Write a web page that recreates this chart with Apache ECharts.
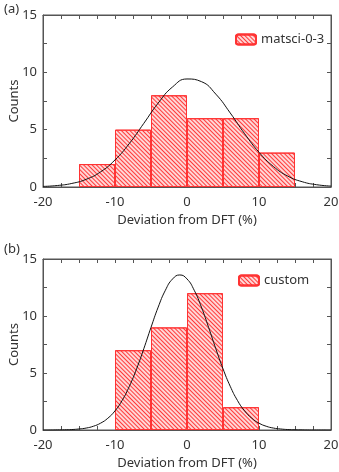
<!DOCTYPE html>
<html>
<head>
<meta charset="utf-8">
<script src="https://cdn.jsdelivr.net/npm/echarts@6/dist/echarts.min.js"></script>
<style>
html, body { margin: 0; padding: 0; background: #fff; }
#main { width: 339px; height: 472px; }
</style>
</head>
<body>
<div id="main"></div>
<script>
// histogram bins (bin centre, %) and counts
var binCentersA = [-12.5, -7.5, -2.5, 2.5, 7.5, 12.5];
var countsA = [2, 5, 8, 6, 6, 3];
var binCentersB = [-7.5, -2.5, 2.5, 7.5];
var countsB = [7, 9, 12, 2];

// fitted normal curves
var curveXA = [-20, -18, -16, -14, -12, -10, -8, -6, -4, -2, 0, 2, 4, 6, 8, 10, 12, 14, 16, 18, 20];
var curveYA = [0.05, 0.13, 0.31, 0.67, 1.32, 2.36, 3.80, 5.55, 7.32, 8.73, 9.42, 9.19, 8.10, 6.46, 4.65, 3.03, 1.79, 0.95, 0.46, 0.20, 0.08];
var curveXB = [-20, -19, -18, -17, -16, -15, -14, -13, -12, -11, -10, -9, -8, -7, -6, -5, -4, -3, -2, -1, 0,
	1, 2, 3, 4, 5, 6, 7, 8, 9, 10, 11, 12, 13, 14, 15, 16, 17, 18, 19, 20];
var curveYB = [0, 0, 0.01, 0.02, 0.04, 0.09, 0.17, 0.33, 0.60, 1.03, 1.68, 2.60, 3.84, 5.37, 7.13, 9.00, 10.78, 12.26, 13.25, 13.60, 13.25,
	12.26, 10.78, 9.00, 7.13, 5.37, 3.84, 2.60, 1.68, 1.03, 0.60, 0.33, 0.17, 0.09, 0.04, 0.02, 0.01, 0, 0, 0, 0];

var nameA = 'matsci-0-3';
var nameB = 'custom';

function pairs(xs, ys) {
	var out = [];
	for(var i = 0; i < xs.length; i++) {
		out.push([xs[i], ys[i]]);
	}
	return out;
}

var gridLeft = 43, gridRight = 8;
var barW = (339 - gridLeft - gridRight) / 40 * 5;
var font = 'Noto Sans';
var txt = '#333';
var axCol = '#555';

// mirror axes keep their labels but paint them transparent (hidden labels drop the axis line here)
function xAx(gi, top) {
	return {
		type: 'value', gridIndex: gi, min: -20, max: 20, interval: 10,
		position: top ? 'top' : 'bottom',
		name: top ? '' : 'Deviation from DFT (%)',
		nameLocation: 'middle', nameGap: 27, nameMoveOverlap: false,
		nameTextStyle: { color: txt, fontSize: 13, fontFamily: font },
		axisLine: { show: true, onZero: false, lineStyle: { color: axCol, width: 1 } },
		axisTick: { show: true, inside: true, length: 4, lineStyle: { color: axCol } },
		minorTick: { show: true, splitNumber: 4, length: 4, lineStyle: { color: axCol } },
		axisLabel: { color: top ? 'rgba(0,0,0,0)' : txt, fontSize: 13, fontFamily: font, margin: 9 },
		splitLine: { show: false }
	};
}

function yAx(gi, right) {
	return {
		type: 'value', gridIndex: gi, min: 0, max: 15, interval: 5,
		position: right ? 'right' : 'left',
		name: right ? '' : 'Counts',
		nameLocation: 'middle', nameGap: 22, nameMoveOverlap: false,
		nameTextStyle: { color: txt, fontSize: 13, fontFamily: font },
		axisLine: { show: true, onZero: false, lineStyle: { color: axCol, width: 1 } },
		axisTick: { show: true, inside: true, length: 4, lineStyle: { color: axCol } },
		minorTick: { show: true, splitNumber: 2, length: 4, lineStyle: { color: axCol } },
		axisLabel: { color: right ? 'rgba(0,0,0,0)' : txt, fontSize: 13, fontFamily: font, margin: 6 },
		splitLine: { show: false }
	};
}

var hatch = {
	color: '#ffd6d6',
	borderColor: '#ff3333',
	borderWidth: 1,
	decal: {
		symbol: 'rect',
		symbolSize: 1,
		dashArrayX: [1, 0],
		dashArrayY: [1, 1.1],
		rotation: Math.PI / 4,
		color: 'rgba(255,30,30,0.85)'
	}
};

function histSeries(name, xi, yi, centers, counts) {
	return {
		name: name, type: 'bar', xAxisIndex: xi, yAxisIndex: yi,
		data: pairs(centers, counts), barWidth: barW,
		itemStyle: hatch, animation: false
	};
}

function curveSeries(xi, yi, xs, ys) {
	return {
		name: 'fit', type: 'line', xAxisIndex: xi, yAxisIndex: yi,
		data: pairs(xs, ys), smooth: true, showSymbol: false, symbol: 'none',
		lineStyle: { color: '#111', width: 1 }, z: 5, animation: false
	};
}

// empty series bound to the top/right axes
function mirrorSeries(xi, yi) {
	return {
		name: 'frame', type: 'line', xAxisIndex: xi, yAxisIndex: yi,
		data: [], silent: true, animation: false
	};
}

var option = {
	animation: false,
	textStyle: { fontFamily: font },
	grid: [
		{ left: gridLeft, right: gridRight, top: 15, height: 172, outerBoundsMode: 'none', show: true, borderColor: axCol, borderWidth: 1 },
		{ left: gridLeft, right: gridRight, top: 259, height: 171, outerBoundsMode: 'none', show: true, borderColor: axCol, borderWidth: 1 }
	],
	xAxis: [xAx(0, false), xAx(0, true), xAx(1, false), xAx(1, true)],
	yAxis: [yAx(0, false), yAx(0, true), yAx(1, false), yAx(1, true)],
	legend: [
		{ data: [nameA], left: 230, top: 28, itemWidth: 20, itemHeight: 10, itemGap: 6,
			textStyle: { color: txt, fontSize: 13, fontFamily: font } },
		{ data: [nameB], left: 233, top: 269, itemWidth: 20, itemHeight: 10, itemGap: 6,
			textStyle: { color: txt, fontSize: 13, fontFamily: font } }
	],
	graphic: [
		{ type: 'text', left: 4, top: 3, style: { text: '(a)', fill: txt, fontSize: 13, fontFamily: font } },
		{ type: 'text', left: 4, top: 243, style: { text: '(b)', fill: txt, fontSize: 13, fontFamily: font } }
	],
	series: [
		histSeries(nameA, 0, 0, binCentersA, countsA),
		curveSeries(0, 0, curveXA, curveYA),
		mirrorSeries(1, 1),
		histSeries(nameB, 2, 2, binCentersB, countsB),
		curveSeries(2, 2, curveXB, curveYB),
		mirrorSeries(3, 3)
	]
};

var chart = echarts.init(document.getElementById('main'));
chart.setOption(option);
</script>
</body>
</html>
